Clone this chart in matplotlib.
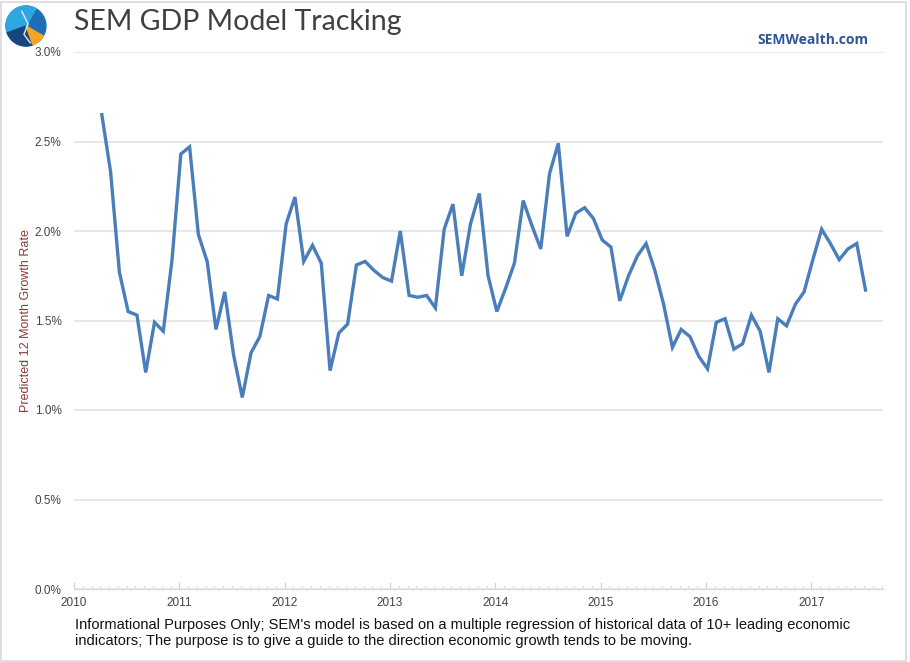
import numpy as np
import matplotlib.pyplot as plt
from matplotlib.patches import Wedge, Circle, Rectangle
from matplotlib.ticker import FuncFormatter, MultipleLocator

# monthly model readings, Apr 2010 .. Jul 2017 (percent)
growth = [
    2.65, 2.33, 1.77, 1.55, 1.53, 1.21, 1.49, 1.44, 1.84,
    2.43, 2.47, 1.98, 1.83, 1.45, 1.66, 1.31, 1.07, 1.32, 1.41, 1.64, 1.62,
    2.04, 2.19, 1.83, 1.92, 1.82, 1.22, 1.43, 1.48, 1.81, 1.83, 1.78, 1.74,
    1.72, 2.00, 1.64, 1.63, 1.64, 1.57, 2.01, 2.15, 1.75, 2.04, 2.21, 1.75,
    1.55, 1.68, 1.82, 2.17, 2.03, 1.90, 2.32, 2.49, 1.97, 2.10, 2.13, 2.07,
    1.95, 1.91, 1.61, 1.75, 1.86, 1.93, 1.78, 1.59, 1.35, 1.45, 1.41, 1.30,
    1.23, 1.49, 1.51, 1.34, 1.37, 1.53, 1.44, 1.21, 1.51, 1.47, 1.59, 1.66,
    1.84, 2.01, 1.93, 1.84, 1.90, 1.93, 1.67,
]
first_month = 3.17          # months after Jan 2010
years = 2010 + (first_month + np.arange(len(growth))) / 12.0
year_ticks = list(range(2010, 2018))
y_ticks = [0.0, 0.5, 1.0, 1.5, 2.0, 2.5, 3.0]

title = "SEM GDP Model Tracking"
site = "SEMWealth.com"
ylabel = "Predicted 12 Month Growth Rate"
note = ("Informational Purposes Only; SEM's model is based on a multiple regression of historical data of 10+ leading economic\n"
        "indicators; The purpose is to give a guide to the direction economic growth tends to be moving.")

W, H = 910, 662
fig = plt.figure(figsize=(W / 100, H / 100), dpi=100)
fig.patch.set_facecolor("white")

# outer frame
fig.add_artist(Rectangle((1 / W, 1 / H), 905 / W, 659 / H, transform=fig.transFigure,
                         fill=False, edgecolor="#d9d9d9", linewidth=1.2))

ax = fig.add_axes([74 / W, (H - 589) / H, (883 - 74) / W, (589 - 52) / H])
ax.plot(years, growth, color="#4a7ebb", linewidth=2.4, solid_joinstyle="miter")

ax.set_xlim(2010, 2017.68)
ax.set_ylim(0, 3.0)
ax.set_yticks(y_ticks)
ax.yaxis.set_major_formatter(FuncFormatter(lambda v, p: f"{v:.1f}%"))
ax.set_xticks(year_ticks)
ax.set_xticklabels([str(y) for y in year_ticks])
ax.xaxis.set_minor_locator(MultipleLocator(1 / 12))
ax.grid(axis="y", color="#e3e3e3", linewidth=1.2)
ax.set_axisbelow(True)
for s in ["top", "right", "left"]:
    ax.spines[s].set_visible(False)
ax.spines["bottom"].set_color("#d9d9d9")
ax.tick_params(axis="y", length=0, pad=9, labelsize=8.5, labelcolor="#444444")
ax.tick_params(axis="x", which="major", direction="in", length=5, color="#d0d0d0",
               pad=6, labelsize=8.5, labelcolor="#444444")
ax.tick_params(axis="x", which="minor", direction="in", length=3, color="#d9d9d9")
for lab in ax.get_xticklabels() + ax.get_yticklabels():
    lab.set_fontfamily("Liberation Sans")
ax.set_ylabel(ylabel, color="#8b3a3a", fontsize=9, family="Liberation Sans", labelpad=2)

fig.text(74 / W, 1 - 22 / H, title, fontsize=20.5, color="#404040", family="Lato",
         va="center", ha="left")
fig.text(868 / W, 1 - 40 / H, site, fontsize=10, fontweight="bold", color="#2f5597",
         family="Open Sans", va="center", ha="right")
fig.text(75 / W, 1 - 633 / H, note, fontsize=10.5, color="#111111", family="Liberation Sans",
         va="center", ha="left", linespacing=1.1)

# logo
lg = fig.add_axes([5 / W, 1 - 47 / H, 42 / W, 42 / H])
lg.set_xlim(-1, 1)
lg.set_ylim(-1, 1)
lg.set_aspect("equal")
lg.axis("off")
lg.add_patch(Circle((0, 0), 0.95, color="#1f6fb8"))
lg.add_patch(Wedge((0, 0), 0.95, 60, 200, color="#2ea6df"))
lg.add_patch(Wedge((0, 0), 0.95, 200, 290, color="#17467f"))
lg.add_patch(Wedge((0, 0), 0.95, 290, 330, color="#f6a623"))
lg.plot([-0.2, 0.1, -0.1, 0.2], [0.7, 0.1, -0.4, -0.8], color="#dde8f2", linewidth=1)

fig.savefig("out.png", dpi=100)
